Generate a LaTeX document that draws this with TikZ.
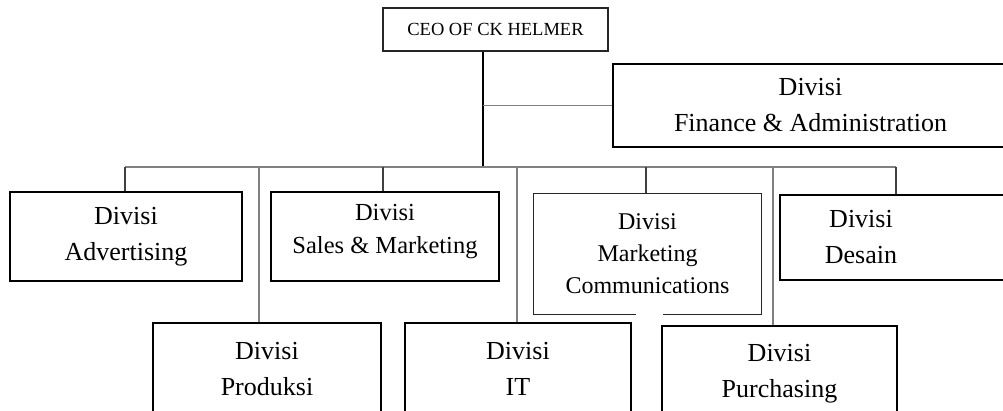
\documentclass[tikz,border=0pt]{standalone}
\usepackage{fontspec}
\setmainfont{Liberation Serif}
\usepackage{tikz}
\usetikzlibrary{positioning,calc}

\begin{document}
\begin{tikzpicture}[x=1pt,y=-1pt,
  box/.style={draw,line width=2.4pt,inner sep=0pt,align=center,
    font=\fontsize{26}{36}\selectfont},
  smallbox/.style={box,font=\fontsize{24.5}{33}\selectfont},
  thinbox/.style={draw=black!85,line width=1.2pt},
  link/.style={draw=black!50,line width=1.6pt},
  drop/.style={draw=black!75,line width=1.1pt}]
\useasboundingbox (0,0) rectangle (1003,411);
% top
\node[thinbox,inner sep=0pt,minimum width=225pt,minimum height=43pt,
  font=\fontsize{18.5}{22}\selectfont] (ceo) at (495.5,29.5) {CEO OF CK HELMER};
\node[box,minimum width=395pt,minimum height=83pt] (fin) at (810.5,105.5)
  {Divisi\\Finance \& Administration};
% upper row
\node[box,minimum width=232pt,minimum height=89pt] (adv) at (126,236.5)
  {Divisi\\Advertising};
\node[box,minimum width=228pt,minimum height=89pt] (sal) at (385,236.5) {};
\node[smallbox,draw=none] (saltxt) at (385,232) {Divisi\\Sales \& Marketing};
\node[smallbox,draw=none,font=\fontsize{24}{32}\selectfont,minimum width=225pt,minimum height=118pt]
  (mc) at (647.5,254) {Divisi\\Marketing\\Communications};
\node[box,minimum width=230pt,minimum height=85pt] (des) at (895,237.5) {};
\node[box,draw=none] (destxt) at (861,237) {Divisi\\Desain};
% lower row
\node[box,minimum width=228pt,minimum height=92pt] (prod) at (267,369) {Divisi\\Produksi};
\node[box,minimum width=226pt,minimum height=92pt] (it) at (518,369) {Divisi\\IT};
\node[box,minimum width=235pt,minimum height=96pt] (pur) at (779.5,374) {Divisi\\Purchasing};
% bus
\coordinate (top) at (483,167);
\coordinate (b1) at (125,167);
\coordinate (b2) at (259,167);
\coordinate (b3) at (383,167);
\coordinate (b4) at (517,167);
\coordinate (b5) at (646,167);
\coordinate (b6) at (773,167);
\coordinate (b7) at (896,167);
\draw[line width=1.3pt] (ceo.south -| top) -- (top);
\draw[link] (top |- fin.west) -- (fin.west);
\draw[link] (b1) -- (b7);
\draw[drop] (b1) -- (b1 |- adv.north);
\draw[drop] (b3) -- (b3 |- sal.north);
\draw[drop] (b5) -- (b5 |- mc.north);
\draw[drop] (b7) -- (b7 |- des.north);
\draw[link] (b2) -- (b2 |- prod.north);
\draw[link] (b4) -- (b4 |- it.north);
\draw[link] (b6) -- (b6 |- pur.north);
% marcom frame, open at the bottom
\draw[thinbox] ([xshift=-11.5pt]mc.south) -| (mc.north west) -| (mc.south east) -- ++(-98,0);
\end{tikzpicture}
\end{document}
